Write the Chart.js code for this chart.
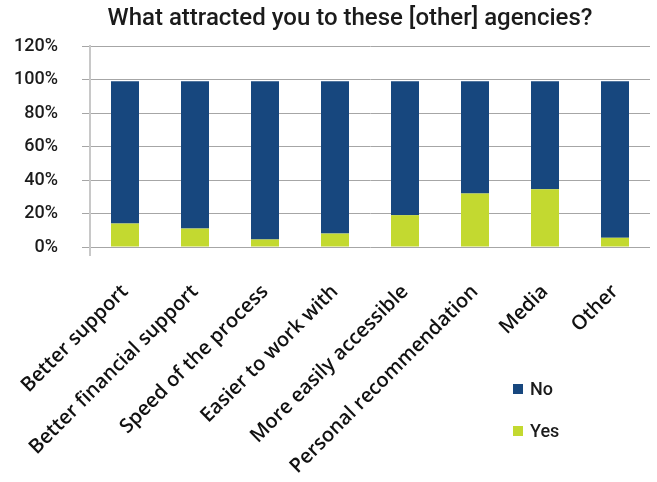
<!DOCTYPE html>
<html>
<head>
<meta charset="utf-8">
<script src="https://cdn.jsdelivr.net/npm/chart.js@4/dist/chart.umd.min.js"></script>
<style>
  html, body { margin: 0; padding: 0; background: #ffffff; }
  #wrap { width: 657px; height: 482px; position: relative; }
</style>
</head>
<body>
<div id="wrap"><canvas id="chart" width="657" height="482"></canvas></div>
<script>
// Survey answers: share of respondents per reason (percent)
const categories = [
  'Better support',
  'Better financial support',
  'Speed of the process',
  'Easier to work with',
  'More easily accessible',
  'Personal recommendation',
  'Media',
  'Other'
];
const yesShare = [14, 11, 4.5, 8, 19, 32, 34.5, 5.5];
const noShare = [85, 88, 94.5, 91, 80, 67, 64.5, 93.5];
const yTickLabels = ['0%', '20%', '40%', '60%', '80%', '100%', '120%'];

const titleText = 'What attracted you to these [other] agencies?';
const colorNo = '#17477e';
const colorYes = '#c3d930';
const textColor = '#1b1b1b';
const dinFont = 'Roboto, "DejaVu Sans", sans-serif';

// Title drawn centred over the plot
const titlePlugin = {
  id: 'plotTitle',
  afterDraw(chart) {
    const ctx = chart.ctx;
    ctx.save();
    ctx.font = '500 24px ' + dinFont;
    ctx.fillStyle = textColor;
    ctx.textAlign = 'center';
    ctx.textBaseline = 'middle';
    ctx.fillText(titleText, 350, 19);
    ctx.restore();
  }
};

// Legend placed in the lower right corner, series listed top-down as stacked
const legendPlugin = {
  id: 'cornerLegend',
  afterDraw(chart) {
    const ctx = chart.ctx;
    const sets = chart.data.datasets.slice().reverse();
    ctx.save();
    ctx.font = '500 18px ' + dinFont;
    ctx.textBaseline = 'middle';
    ctx.textAlign = 'left';
    sets.forEach((ds, i) => {
      const y = 389 + i * 42;
      ctx.fillStyle = ds.backgroundColor;
      ctx.fillRect(513, y - 5, 10, 10);
      ctx.fillStyle = textColor;
      ctx.fillText(ds.label, 530, y + 1);
    });
    ctx.restore();
  }
};

new Chart(document.getElementById('chart'), {
  type: 'bar',
  data: {
    labels: categories,
    datasets: [
      { label: 'Yes', data: yesShare, backgroundColor: colorYes },
      { label: 'No', data: noShare, backgroundColor: colorNo }
    ]
  },
  options: {
    responsive: false,
    animation: false,
    layout: { padding: { left: 0, right: 7, top: 46, bottom: 0 } },
    datasets: { bar: { categoryPercentage: 1, barPercentage: 0.4 } },
    plugins: {
      legend: { display: false },
      title: { display: false },
      tooltip: { enabled: false }
    },
    scales: {
      x: {
        stacked: true,
        border: { display: false },
        grid: {
          drawOnChartArea: false,
          tickLength: 9,
          lineWidth: 2,
          color: (c) => (c.index === 0 ? '#c8c8c8' : 'rgba(0,0,0,0)')
        },
        ticks: {
          minRotation: 45,
          maxRotation: 45,
          autoSkip: false,
          padding: 24,
          color: '#111111',
          font: { family: '"Open Sans", sans-serif', size: 20, weight: '600' }
        },
        afterFit(scale) {
          scale.height = 235;
          // rotated labels may hang past the plot edges; keep the plot width fixed
          scale.paddingLeft = 0;
          scale.paddingRight = 0;
        }
      },
      y: {
        stacked: true,
        min: 0,
        max: 120,
        border: { display: true, color: '#c8c8c8', width: 2 },
        grid: { color: '#a6a6a6', lineWidth: 1, tickLength: 8 },
        ticks: {
          stepSize: 20,
          padding: 24,
          color: textColor,
          font: { family: dinFont, size: 18, weight: '500' },
          callback: (v) => yTickLabels[Math.round(v / 20)]
        },
        afterFit(scale) { scale.width = 90; }
      }
    }
  },
  plugins: [titlePlugin, legendPlugin]
});
</script>
</body>
</html>
